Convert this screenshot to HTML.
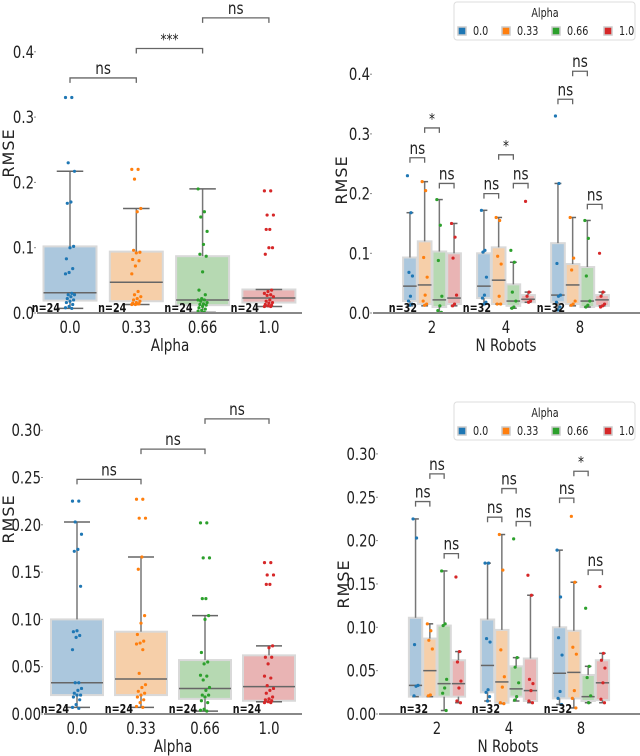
<!DOCTYPE html>
<html><head><meta charset="utf-8">
<style>
html,body{margin:0;padding:0;background:#fff;}
svg{display:block;font-family:"DejaVu Sans","Liberation Sans",sans-serif;}
</style></head>
<body>
<svg id="fig" width="640" height="756" viewBox="0 0 640 756" xmlns="http://www.w3.org/2000/svg"></svg>
<script>
// ---------- DATA ----------
const alphaCats = ['0.0','0.33','0.66','1.0'];
const robotGroups = ['2','4','8'];
// boxes: [low whisker, q1, median, q3, high whisker]
const tlBoxes = [[0.007,0.019,0.031,0.102,0.217],[0.013,0.018,0.047,0.094,0.160],[0.001,0.012,0.020,0.087,0.190],[0.010,0.016,0.023,0.036,0.036]];
const tlPoints = [
 [0.33,0.33,0.23,0.217,0.17,0.168,0.102,0.10,0.083,0.068,0.062,0.06,0.03,0.028,0.028,0.025,0.022,0.02,0.018,0.016,0.013,0.01,0.008,0.007],
 [0.22,0.22,0.205,0.16,0.155,0.096,0.093,0.092,0.082,0.08,0.072,0.06,0.033,0.028,0.025,0.022,0.02,0.018,0.016,0.015,0.014,0.013,0.013,0.014],
 [0.19,0.155,0.147,0.125,0.105,0.09,0.087,0.063,0.035,0.028,0.022,0.02,0.02,0.018,0.016,0.014,0.013,0.012,0.01,0.008,0.006,0.004,0.003,0.001],
 [0.187,0.187,0.15,0.15,0.128,0.128,0.10,0.10,0.09,0.035,0.033,0.03,0.028,0.027,0.025,0.02,0.018,0.016,0.015,0.013,0.012,0.011,0.01,0.01]];
const tlBrackets = [[0,1,0.36,'ns'],[1,2,0.405,'***'],[2,3,0.452,'ns']];

const trBoxes = [
 [[0.012,0.02,0.045,0.093,0.168],[0.012,0.015,0.047,0.12,0.22],[0.0,0.01,0.022,0.103,0.19],[0.012,0.015,0.025,0.10,0.15]],
 [[0.015,0.025,0.045,0.10,0.172],[0.015,0.015,0.055,0.11,0.16],[0.008,0.012,0.02,0.048,0.085],[0.018,0.018,0.023,0.03,0.035]],
 [[0.005,0.018,0.03,0.117,0.217],[0.012,0.015,0.047,0.082,0.16],[0.01,0.01,0.02,0.077,0.155],[0.012,0.012,0.022,0.03,0.035]]];
const trPoints = [
 [[0.23,0.168,0.068,0.062,0.028,0.02,0.015,0.013],[0.22,0.205,0.093,0.06,0.03,0.02,0.015,0.013],[0.19,0.147,0.088,0.028,0.012,0.004,0.001],[0.15,0.127,0.092,0.03,0.015,0.012]],
 [[0.172,0.105,0.102,0.06,0.03,0.025,0.018,0.015],[0.16,0.155,0.095,0.082,0.028,0.015,0.015],[0.105,0.085,0.035,0.02,0.01,0.008],[0.187,0.035,0.028,0.02,0.018]],
 [[0.33,0.217,0.083,0.03,0.028,0.018,0.01,0.005],[0.16,0.092,0.072,0.02,0.015,0.013],[0.155,0.125,0.062,0.02,0.013,0.01],[0.10,0.035,0.028,0.015,0.012,0.01]]];
// [group, alpha a, alpha b, value, label]
const trBrackets = [[0,0,1,0.26,'ns'],[0,1,2,0.31,'*'],[0,2,3,0.217,'ns'],[1,0,1,0.20,'ns'],[1,1,2,0.265,'*'],[1,2,3,0.217,'ns'],[2,0,1,0.358,'ns'],[2,1,2,0.405,'ns'],[2,2,3,0.182,'ns']];

const blBoxes = [[0.007,0.02,0.033,0.10,0.203],[0.007,0.02,0.037,0.087,0.166],[0.003,0.016,0.027,0.057,0.104],[0.013,0.014,0.029,0.062,0.072]];
const blPoints = [
 [0.225,0.225,0.203,0.19,0.174,0.172,0.135,0.088,0.087,0.083,0.081,0.068,0.033,0.033,0.027,0.025,0.022,0.02,0.02,0.018,0.015,0.01,0.007,0.006],
 [0.227,0.227,0.207,0.207,0.166,0.153,0.104,0.096,0.084,0.077,0.075,0.074,0.068,0.043,0.031,0.028,0.024,0.022,0.02,0.018,0.015,0.012,0.008,0.007],
 [0.202,0.202,0.165,0.165,0.122,0.122,0.104,0.10,0.065,0.055,0.053,0.041,0.04,0.036,0.028,0.025,0.02,0.02,0.018,0.014,0.012,0.005,0.004,0.003],
 [0.16,0.16,0.147,0.147,0.137,0.137,0.072,0.07,0.06,0.06,0.053,0.04,0.038,0.03,0.027,0.025,0.022,0.018,0.016,0.015,0.014,0.013,0.012,0.012]];
const blBrackets = [[0,1,0.248,'ns'],[1,2,0.28,'ns'],[2,3,0.312,'ns']];

const brBoxes = [
 [[0.02,0.02,0.033,0.111,0.225],[0.02,0.02,0.05,0.087,0.104],[0.004,0.02,0.035,0.102,0.165],[0.013,0.02,0.035,0.062,0.072]],
 [[0.015,0.025,0.056,0.109,0.174],[0.012,0.013,0.037,0.097,0.207],[0.015,0.02,0.029,0.055,0.065],[0.013,0.015,0.027,0.064,0.137]],
 [[0.011,0.018,0.047,0.10,0.189],[0.007,0.018,0.048,0.096,0.152],[0.013,0.015,0.02,0.045,0.055],[0.013,0.016,0.036,0.062,0.07]]];
const brPoints = [
 [[0.225,0.203,0.08,0.033,0.032,0.021],[0.104,0.096,0.085,0.075,0.022,0.021],[0.165,0.104,0.102,0.04,0.03,0.024,0.004],[0.158,0.072,0.06,0.038,0.03,0.015,0.013]],
 [[0.174,0.174,0.087,0.083,0.028,0.025,0.02,0.015],[0.207,0.166,0.074,0.043,0.031,0.013,0.012],[0.202,0.065,0.054,0.036,0.02,0.016],[0.16,0.137,0.04,0.035,0.027,0.015,0.013]],
 [[0.189,0.135,0.088,0.068,0.026,0.018,0.011],[0.228,0.152,0.077,0.069,0.027,0.018,0.007],[0.122,0.055,0.042,0.021,0.013],[0.147,0.07,0.062,0.053,0.036,0.017,0.013]]];
const brBrackets = [[0,0,1,0.245,'ns'],[0,1,2,0.277,'ns'],[0,2,3,0.185,'ns'],[1,0,1,0.227,'ns'],[1,1,2,0.26,'ns'],[1,2,3,0.222,'ns'],[2,0,1,0.249,'ns'],[2,1,2,0.28,'*'],[2,2,3,0.166,'ns']];

const tlTicks = ['0.0','0.1','0.2','0.3','0.4'];
const trTicks = ['0.0','0.1','0.2','0.3','0.4'];
const blTicks = ['0.00','0.05','0.10','0.15','0.20','0.25','0.30'];
const brTicks = ['0.00','0.05','0.10','0.15','0.20','0.25','0.30'];

// ---------- STYLE ----------
const dotCol = ['#1f77b4','#ff7f0e','#2ca02c','#d62728'];
const boxCol = ['#abc7dd','#f6cfa9','#b6d9b2','#e9b4b4'];
const svg = document.getElementById('fig');
const NS = 'http://www.w3.org/2000/svg';
function mk(tag, attrs, parent, text){
  const e = document.createElementNS(NS, tag);
  for (const k in attrs) e.setAttribute(k, attrs[k]);
  if (text !== undefined) e.textContent = text;
  (parent || svg).appendChild(e);
  return e;
}
// condensed text: scaled horizontally
function ctext(g, x, y, str, attrs, sx){
  const a = Object.assign({x:0,y:0,transform:`translate(${x},${y}) scale(${sx},1)`,fill:'#222'}, attrs);
  return mk('text', a, g, str);
}
function jit(i){ return ((i*7)%11 - 5); }

function drawBox(g, cx, w, b, pts, ci, y, jscale){
  const [lo,q1,med,q3,hi] = b;
  const box = mk('rect',{x:cx-w/2,y:y(q3),width:w,height:Math.max(1,y(q1)-y(q3)),fill:boxCol[ci],stroke:'#d9d9d9','stroke-width':2},g);
  
  
  mk('line',{x1:cx,x2:cx,y1:y(q3),y2:y(hi),stroke:'#777','stroke-width':1.5},g);
  mk('line',{x1:cx,x2:cx,y1:y(q1),y2:y(lo),stroke:'#777','stroke-width':1.5},g);
  mk('line',{x1:cx-w/4,x2:cx+w/4,y1:y(hi),y2:y(hi),stroke:'#666','stroke-width':1.5},g);
  mk('line',{x1:cx-w/4,x2:cx+w/4,y1:y(lo),y2:y(lo),stroke:'#666','stroke-width':1.5},g);
  const m = mk('line',{x1:cx-w/2,x2:cx+w/2,y1:y(med),y2:y(med),stroke:'#666','stroke-width':1.5},g);
  
  
  pts.forEach((v,i)=>{
    const c = mk('circle',{cx:cx+jit(i)*jscale,cy:y(v),r:1.6,fill:dotCol[ci]},g);
    
    
  });
}

function bracket(g, x1, x2, yy, label){
  mk('path',{d:`M${x1},${yy+5}V${yy}H${x2}V${yy+5}`,fill:'none',stroke:'#666','stroke-width':1.3},g);
  const t = ctext(g,(x1+x2)/2,yy-4,label,{'text-anchor':'middle','font-size':label==='ns'?17:15},0.8);
  
  
}

function axes(g, P, ticks, xlabels, xpos, xtitle){
  ticks.forEach(t=>{
    const yy = P.y(parseFloat(t));
    mk('line',{x1:P.x0-3,x2:P.x0-1,y1:yy,y2:yy,stroke:'#888','stroke-width':1},g);
    const tx = ctext(g,P.x0-3,yy+6,t,{'text-anchor':'end','font-size':17},0.78);
    
    
  });
  const ax = mk('line',{x1:P.x0,x2:P.x1,y1:P.y(0),y2:P.y(0),stroke:'#888','stroke-width':2},g);
  
  
  xlabels.forEach((l,i)=>{
    const tx = ctext(g,xpos[i],P.y(0)+20,l,{'text-anchor':'middle','font-size':17},0.78);
    
    
  });
  const xt = ctext(g,P.xt,P.y(0)+38,xtitle,{'text-anchor':'middle','font-size':17},0.8);
  
  
  const yt = mk('text',{x:0,y:0,transform:`translate(${P.ytx},${P.yty}) rotate(-90)`,'text-anchor':'middle','font-size':16,fill:'#222','letter-spacing':'1'},g,'RMSE');
  
  
}

function nLabel(g,x,y,txt){
  const t = ctext(g,x,y,txt,{'text-anchor':'end','font-size':12,'font-weight':'bold',fill:'#111'},0.8);
  
  
}

function simplePanel(name, P, boxes, points, brackets, ticks, cats, nOff){
  const g = mk('g',{});
  
  
  const xs = cats.map((c,i)=>P.cx0 + i*P.step);
  boxes.forEach((b,i)=>drawBox(g, xs[i], P.bw, b, points[i], i, P.y, 0.9));
  axes(g, P, ticks, cats, xs, 'Alpha');
  cats.forEach((c,i)=>nLabel(g, xs[i]-nOff, P.y(0)-1, 'n=24'));
  brackets.forEach(br=>bracket(g, xs[br[0]], xs[br[1]], P.y(br[2]), br[3]));
}

function groupPanel(name, P, boxes, points, brackets, ticks, nOff, legY){
  const g = mk('g',{});
  
  
  const gx = robotGroups.map((c,i)=>P.cx0 + i*P.step);
  const off = [-1.5,-0.5,0.5,1.5];
  const bx = (gi,ai)=>gx[gi]+off[ai]*P.bw;
  boxes.forEach((grp,gi)=>grp.forEach((b,ai)=>drawBox(g, bx(gi,ai), P.bw-1, b, points[gi][ai], ai, P.y, 0.5)));
  axes(g, P, ticks, robotGroups, gx, 'N Robots');
  gx.forEach(x=>nLabel(g, x-nOff, P.y(0)-1, 'n=32'));
  brackets.forEach(br=>bracket(g, bx(br[0],br[1]), bx(br[0],br[2]), P.y(br[3]), br[4]));
  // legend
  const lg = mk('g',{},g);
  
  
  mk('rect',{x:454,y:legY,width:181,height:38,rx:3,fill:'#fff',stroke:'#ddd','stroke-width':1},lg);
  ctext(lg,545,legY+15,'Alpha',{'text-anchor':'middle','font-size':12},0.8);
  const sx = [458,502,552,604];
  alphaCats.forEach((c,i)=>{
    const e = mk('g',{},lg);
    
    
    mk('rect',{x:sx[i],y:legY+25,width:8,height:8,fill:dotCol[i],stroke:'#ccc','stroke-width':1.5},e);
    ctext(e,sx[i]+15,legY+33,c,{'font-size':12},0.8);
  });
}

// top-left
simplePanel('panel-top-left',
 {x0:37,x1:302,y:v=>313-v*653,cx0:70,step:66.3,bw:53,xt:170,ytx:14,yty:153},
 tlBoxes, tlPoints, tlBrackets, tlTicks, alphaCats, 10);
// top-right
groupPanel('panel-top-right',
 {x0:373,x1:640,y:v=>313-v*597,cx0:432,step:74,bw:14.7,xt:506,ytx:347,yty:180},
 trBoxes, trPoints, trBrackets, trTicks, 15, 2);
// bottom-left
simplePanel('panel-bottom-left',
 {x0:44,x1:302,y:v=>714-v*946,cx0:77,step:64,bw:52,xt:173,ytx:14,yty:519},
 blBoxes, blPoints, blBrackets, blTicks, alphaCats, 8);
// bottom-right
groupPanel('panel-bottom-right',
 {x0:379,x1:640,y:v=>714-v*867,cx0:437,step:72,bw:14.3,xt:508,ytx:349,yty:584},
 brBoxes, brPoints, brBrackets, brTicks, 9, 402);
</script>
</body></html>
